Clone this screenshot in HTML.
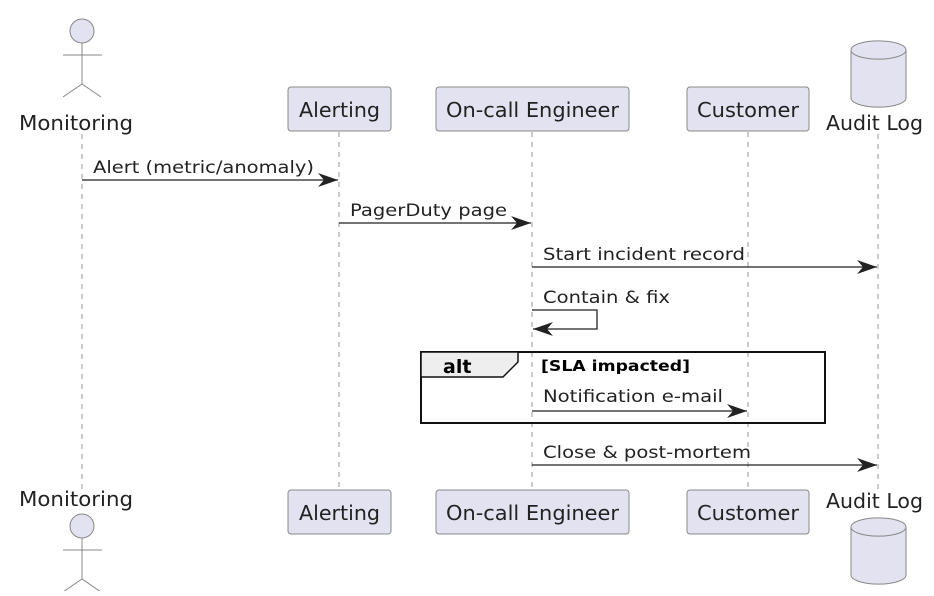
<!DOCTYPE html><html><head><style>body{margin:0;background:#fff}</style></head><body>
<svg width="934" height="591" xmlns="http://www.w3.org/2000/svg" font-family="DejaVu Sans, sans-serif" font-size="19">
<g stroke="#999" stroke-dasharray="5,5" stroke-width="1">
<line x1="82" y1="134" x2="82" y2="490"/><line x1="339" y1="132" x2="339" y2="490"/>
<line x1="532" y1="132" x2="532" y2="490"/><line x1="748" y1="132" x2="748" y2="490"/>
<line x1="878" y1="134" x2="878" y2="490"/></g>
<g fill="#e2e2f0" stroke="#888" stroke-width="1">
<rect x="288" y="87" width="103" height="44" rx="3"/><rect x="436" y="87" width="193" height="44" rx="3"/><rect x="687" y="87" width="122" height="44" rx="3"/>
<rect x="288" y="490" width="103" height="44" rx="3"/><rect x="436" y="490" width="193" height="44" rx="3"/><rect x="687" y="490" width="122" height="44" rx="3"/>
<circle cx="82" cy="31" r="12"/><circle cx="82" cy="526" r="12"/>
<path d="M851 50 v48 a27 9 0 0 0 55 0 v-48 a27 9 0 0 0 -55 0 a27 9 0 0 0 55 0"/>
<path d="M851 527 v48 a27 9 0 0 0 55 0 v-48 a27 9 0 0 0 -55 0 a27 9 0 0 0 55 0"/>
</g>
<g stroke="#888" fill="none"><path d="M82 43v41M63 55h39M63 97l19-13 19 13"/><path d="M82 538v41M63 550h39M63 592l19-13 19 13"/></g>
<g fill="#222" font-size="20">
<text x="19" y="130" textLength="114" lengthAdjust="spacingAndGlyphs">Monitoring</text>
<text x="299" y="117" textLength="81" lengthAdjust="spacingAndGlyphs">Alerting</text>
<text x="446" y="117" textLength="173" lengthAdjust="spacingAndGlyphs">On-call Engineer</text>
<text x="697" y="117" textLength="102" lengthAdjust="spacingAndGlyphs">Customer</text>
<text x="826" y="130" textLength="97" lengthAdjust="spacingAndGlyphs">Audit Log</text>
<text x="19" y="506" textLength="114" lengthAdjust="spacingAndGlyphs">Monitoring</text>
<text x="299" y="520" textLength="81" lengthAdjust="spacingAndGlyphs">Alerting</text>
<text x="446" y="520" textLength="173" lengthAdjust="spacingAndGlyphs">On-call Engineer</text>
<text x="697" y="520" textLength="102" lengthAdjust="spacingAndGlyphs">Customer</text>
<text x="826" y="508" textLength="97" lengthAdjust="spacingAndGlyphs">Audit Log</text></g>
<g stroke="#222" stroke-width="1.3" fill="none">
<line x1="82" y1="180" x2="338" y2="180"/>
<line x1="339" y1="223" x2="531" y2="223"/>
<line x1="532" y1="267" x2="877" y2="267"/>
<path d="M532 310h65v19h-64"/>
<line x1="532" y1="411" x2="747" y2="411"/>
<line x1="532" y1="465" x2="877" y2="465"/>
</g>
<g fill="#222">
<path d="M318 173l20 7-20 7 6-7z"/><path d="M511 216l20 7-20 7 6-7z"/><path d="M857 260l20 7-20 7 6-7z"/>
<path d="M553 322l-20 7 20 7-6-7z"/><path d="M727 404l20 7-20 7 6-7z"/><path d="M857 458l20 7-20 7 6-7z"/></g>
<rect x="421" y="352" width="404" height="71" fill="none" stroke="#111" stroke-width="2"/>
<path d="M421 352h97v10l-15 15h-82z" fill="#eee" stroke="#111" stroke-width="1.5"/>
<text x="443" y="373" font-weight="bold" font-size="19">alt</text>
<text x="541" y="371" font-weight="bold" font-size="15" textLength="149" lengthAdjust="spacingAndGlyphs">[SLA impacted]</text>
<g fill="#222" font-size="17">
<text x="93" y="173" textLength="221" lengthAdjust="spacingAndGlyphs">Alert (metric/anomaly)</text>
<text x="350" y="216" textLength="157" lengthAdjust="spacingAndGlyphs">PagerDuty page</text>
<text x="543" y="260" textLength="202" lengthAdjust="spacingAndGlyphs">Start incident record</text>
<text x="543" y="303" textLength="127" lengthAdjust="spacingAndGlyphs">Contain &amp; fix</text>
<text x="543" y="402" textLength="180" lengthAdjust="spacingAndGlyphs">Notification e-mail</text>
<text x="543" y="458" textLength="208" lengthAdjust="spacingAndGlyphs">Close &amp; post-mortem</text></g>
</svg></body></html>
